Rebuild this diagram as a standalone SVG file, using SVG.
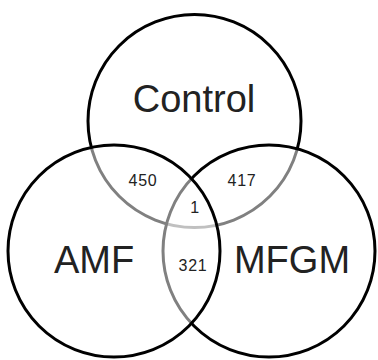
<svg xmlns="http://www.w3.org/2000/svg" width="378" height="360" viewBox="0 0 378 360">
<style>
.c{fill:#fff;fill-opacity:0.5;stroke:#000;stroke-width:3}
.big{font-family:"Liberation Sans",Arial,sans-serif;font-size:38px;fill:#222;text-anchor:middle}
.num{font-family:"Liberation Sans",Arial,sans-serif;font-size:16px;letter-spacing:0.8px;fill:#222;text-anchor:middle}
</style>
<rect width="378" height="360" fill="#fff"/>
<g id="control"><circle class="c" cx="194.5" cy="121" r="106.5"/></g>
<g id="mfgm"><circle class="c" cx="269" cy="251" r="106"/></g>
<g id="amf"><circle class="c" cx="114" cy="251" r="106"/></g>
<g id="labels">
<text class="big" x="194" y="112">Control</text>
<text class="big" x="94" y="273">AMF</text>
<text class="big" x="292" y="273">MFGM</text>
<text class="num" x="143" y="186">450</text>
<text class="num" x="242" y="186">417</text>
<text class="num" x="195" y="213">1</text>
<text class="num" x="193" y="271">321</text>
</g>
</svg>
